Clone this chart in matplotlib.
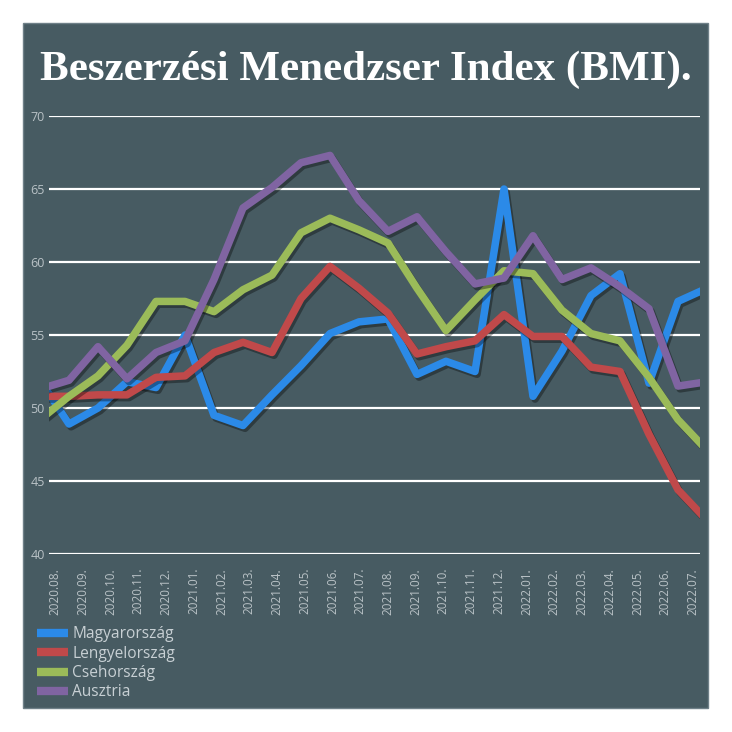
import matplotlib
matplotlib.use("Agg")
import matplotlib.pyplot as plt
import matplotlib.patheffects as pe
from matplotlib.lines import Line2D
from matplotlib.patches import Rectangle

months = ["2020.08.", "2020.09.", "2020.10.", "2020.11.", "2020.12.", "2021.01.",
          "2021.02.", "2021.03.", "2021.04.", "2021.05.", "2021.06.", "2021.07.",
          "2021.08.", "2021.09.", "2021.10.", "2021.11.", "2021.12.", "2022.01.",
          "2022.02.", "2022.03.", "2022.04.", "2022.05.", "2022.06.", "2022.07."]

magyar = [51.9, 48.9, 50.0, 51.8, 51.4, 55.0, 49.5, 48.8, 50.9, 52.9, 55.1, 55.9,
          56.1, 52.3, 53.2, 52.5, 65.0, 50.8, 53.9, 57.7, 59.2, 51.7, 57.3, 58.2]
lengyel = [50.8, 50.8, 50.9, 50.9, 52.1, 52.2, 53.8, 54.5, 53.8, 57.5, 59.7, 58.2,
           56.5, 53.7, 54.2, 54.6, 56.4, 54.9, 54.9, 52.8, 52.5, 48.2, 44.4, 42.3]
cseh = [49.2, 50.8, 52.2, 54.3, 57.3, 57.3, 56.6, 58.1, 59.1, 62.0, 63.0, 62.2,
        61.3, 58.2, 55.3, 57.4, 59.4, 59.2, 56.7, 55.1, 54.6, 52.1, 49.2, 47.1]
ausztria = [51.3, 51.9, 54.2, 52.0, 53.8, 54.6, 58.8, 63.7, 65.1, 66.8, 67.3, 64.2,
            62.1, 63.1, 60.7, 58.5, 58.9, 61.8, 58.8, 59.6, 58.3, 56.8, 51.5, 51.8]

series = [("Magyarország", magyar, "#2b8ae8"),
          ("Lengyelország", lengyel, "#c0494a"),
          ("Csehország", cseh, "#9bbb59"),
          ("Ausztria", ausztria, "#8064a2")]

title = "Beszerzési Menedzser Index (BMI)."

W = H = 732
fig = plt.figure(figsize=(7.32, 7.32), dpi=100, facecolor="white")
panel_col = "#475b62"
fig.patches.append(Rectangle((23 / W, 1 - 708 / H), 685 / W, 685 / H,
                             transform=fig.transFigure, facecolor=panel_col,
                             edgecolor="#6f8088", linewidth=1.0, zorder=-10))

fig.text(0.5, 1 - 70 / H, title, ha="center", va="center", color="white",
         fontsize=31, fontweight="bold", family="Liberation Serif")

ax = fig.add_axes([49 / W, 1 - 554 / H, 651 / W, 438 / H])
ax.set_facecolor("none")
ax.set_ylim(40, 70)
ax.set_xlim(9 / 29, 660 / 29)
for s in ax.spines.values():
    s.set_visible(False)
ax.set_yticks(range(40, 71, 5))
ax.yaxis.grid(True, color="white", linewidth=1.6)
ax.set_axisbelow(True)
ax.tick_params(axis="y", length=0, pad=3, labelsize=9, labelcolor="#b9c2c6")
for t in ax.get_yticklabels():
    t.set_family("Open Sans")
ax.set_xticks([])

x = list(range(len(months)))
for name, vals, col in series:
    ax.plot(x, vals, color=col, linewidth=5.4, solid_joinstyle="round",
            solid_capstyle="butt", zorder=3,
            path_effects=[pe.SimpleLineShadow(offset=(1.5, -2), shadow_color="black", alpha=0.35),
                          pe.Normal()])

ax2 = ax.twiny()
ax2.set_xlim(-6 / 27.74, 23 + 7 / 27.74)
ax2.xaxis.set_ticks_position("bottom")
ax2.set_xticks(x)
ax2.set_xticklabels(months, rotation=90, fontsize=8.4, color="#b9c2c6", family="Open Sans")
ax2.tick_params(axis="x", length=0, pad=10)
for s in ax2.spines.values():
    s.set_visible(False)
ax2.patch.set_visible(False)

handles = [Line2D([0], [0], color=col, linewidth=6, solid_capstyle="butt")
           for _, _, col in series]
leg = fig.legend(handles, [n for n, _, _ in series], loc="upper left",
                 bbox_to_anchor=(31 / W, 1 - 620 / H), frameon=False,
                 handlelength=2.0, handletextpad=0.25, labelspacing=0.22,
                 prop={"family": "Open Sans", "size": 11.2}, borderaxespad=0)
for t in leg.get_texts():
    t.set_color("#c8d0d4")

fig.savefig("out.png", dpi=100, facecolor="white")
